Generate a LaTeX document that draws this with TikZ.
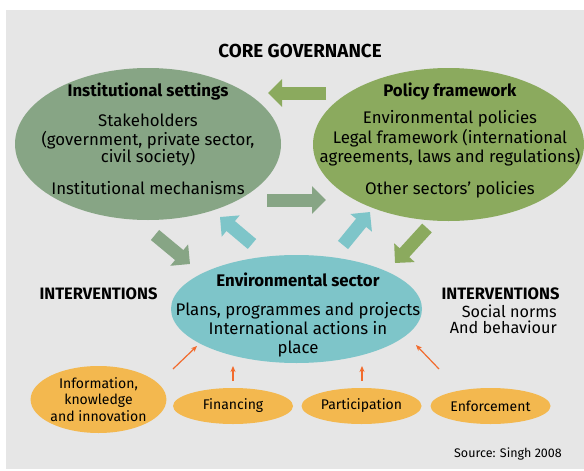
\documentclass[tikz,border=0pt]{standalone}
\usepackage{fontspec}
\setmainfont{Fira Sans}
\usetikzlibrary{arrows.meta,shapes.geometric}
\definecolor{bggray}{HTML}{E6E6E6}
\definecolor{instgreen}{HTML}{87A585}
\definecolor{policygreen}{HTML}{8BAA5E}
\definecolor{envcyan}{HTML}{7EC5C9}
\definecolor{toolorange}{HTML}{F3B84F}
\definecolor{nudgeorange}{HTML}{F26B2D}
\tikzset{bubble/.style={ellipse,inner sep=0pt},
 tool/.style={bubble,fill=toolorange,align=center,font=\fontsize{14}{16.5}\selectfont},
 blockarrow/.style={line width=13pt,-{Triangle[width=27pt,length=14pt]}},
 nudge/.style={nudgeorange,line width=1.2pt,-{Stealth[length=6pt,width=5pt]}},
 heading/.style={font=\fontsize{16.5}{19}\selectfont\bfseries},
 every node/.style={font=\fontsize{16.8}{18}\selectfont}}
\begin{document}
\begin{tikzpicture}[x=1pt,y=-1pt]
\useasboundingbox (0,0) rectangle (584,471);
\fill[bggray] (6,10) rectangle (584,469);
% core governance
\node[heading,font=\fontsize{18.8}{21}\selectfont\bfseries] (core) at (300,51) {CORE GOVERNANCE};
\node[bubble,fill=instgreen,minimum width=266pt,minimum height=152pt] (inst) at (148,144) {};
\node[bubble,fill=policygreen,minimum width=271pt,minimum height=153pt] (policy) at (448.5,144.5) {};
\node[anchor=north,align=center,inner sep=0pt] (inst-txt) at (148,83)
 {\textbf{Institutional settings}\\[12pt] Stakeholders\\[1pt] (government, private sector,\\[-1pt] civil society)\\[14pt] Institutional mechanisms};
\node[anchor=north,align=center,inner sep=0pt] (policy-txt) at (450,83)
 {\textbf{Policy framework}\\[9pt] Environmental policies\\[2pt] Legal framework (international\\[1pt] agreements, laws and regulations)\\[14pt] Other sectors’ policies};
% environmental sector
\node[bubble,fill=envcyan,minimum width=251pt,minimum height=108pt] (env) at (296.5,309) {};
\node[anchor=north,align=center,inner sep=0pt] (env-txt) at (298,273)
 {\textbf{Environmental sector}\\[11pt] Plans, programmes and projects\\[1pt] International actions in\\[1pt] place};
% block arrows
\coordinate (pf-out) at (326,93);   \coordinate (is-in) at (268,93);
\coordinate (is-out) at (267,200);  \coordinate (pf-in) at (326,200);
\coordinate (es-up1) at (252,244);  \coordinate (is-in2) at (220,217);
\coordinate (es-up2) at (343,245);  \coordinate (pf-in2) at (370,212);
\coordinate (pf-down) at (427,228); \coordinate (es-in1) at (395,263);
\coordinate (is-down) at (155,235); \coordinate (es-in2) at (190,264);
\draw[blockarrow,policygreen] (pf-out) -- (is-in);
\draw[blockarrow,instgreen] (is-out) -- (pf-in);
\draw[blockarrow,envcyan] (es-up1) -- (is-in2);
\draw[blockarrow,envcyan] (es-up2) -- (pf-in2);
\draw[blockarrow,policygreen] (pf-down) -- (es-in1);
\draw[blockarrow,instgreen] (is-down) -- (es-in2);
% interventions
\node[heading] (int-left) at (98.5,294) {INTERVENTIONS};
\node[heading] (int-right) at (500.5,294) {INTERVENTIONS};
\node[anchor=north east,align=right,inner sep=0pt,font=\fontsize{16.2}{16}\selectfont] (norms) at (557,305) {Social norms\\And behaviour};
\node[tool,minimum width=135pt,minimum height=67pt] (info) at (98.5,399.5) {Information,\\knowledge\\and innovation};
\node[tool,minimum width=120pt,minimum height=36pt] (fin) at (233,406) {Financing};
\node[tool,minimum width=120pt,minimum height=36pt] (part) at (361.5,406) {Participation};
\node[tool,minimum width=120pt,minimum height=36pt] (enf) at (490.5,406) {Enforcement};
\coordinate (info-tip) at (197,346);
\coordinate (fin-tip) at (233,366);
\coordinate (part-tip) at (362,366);
\coordinate (enf-tip) at (416,345);
\draw[nudge] (173,369) -- (info-tip);
\draw[nudge] (233,381) -- (fin-tip);
\draw[nudge] (362,381) -- (part-tip);
\draw[nudge] (439,369) -- (enf-tip);
\node[anchor=east,inner sep=0pt,font=\fontsize{12.5}{15}\selectfont] (src) at (562,454) {Source: Singh 2008};
\end{tikzpicture}
\end{document}
